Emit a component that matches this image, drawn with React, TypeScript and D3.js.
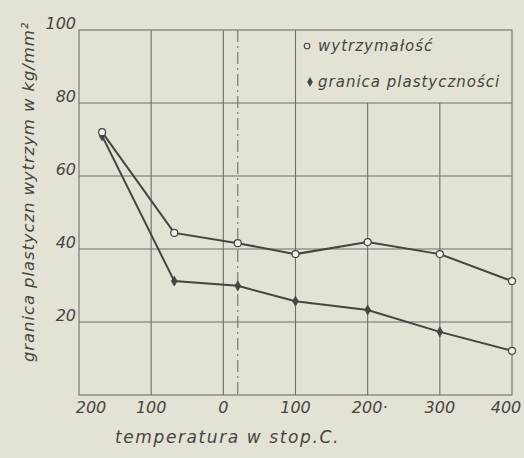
import * as d3 from "d3";
import React from "react";

// temperatura (stop. C)
const temps = [-168, -68, 20, 100, 200, 300, 400];
// wytrzymałość, kg/mm2
const strength = [72, 44.4, 41.6, 38.6, 41.9, 38.6, 31.2];
// granica plastyczności, kg/mm2
const yieldPoint = [71, 31.2, 29.9, 25.7, 23.3, 17.3, 12.1];

const xTicks = [-200, -100, 0, 100, 200, 300, 400];
const xTickLabels = ["200", "100", "0", "100", "200·", "300", "400"];
const yTicks = [20, 40, 60, 80, 100];

const W = 524;
const H = 458;
const ink = "#46453f";
const grid = "#6f6e68";
const font = "'DejaVu Sans', sans-serif";

const App = () => {
  const x = d3.scaleLinear().domain([-200, 400]).range([79, 512]);
  const y = d3.scaleLinear().domain([0, 100]).range([395, 30]);

  const line = d3
    .line<[number, number]>()
    .x((d) => x(d[0]))
    .y((d) => y(d[1]));

  const sPts: [number, number][] = temps.map((t, i) => [t, strength[i]]);
  const yPts: [number, number][] = temps.map((t, i) => [t, yieldPoint[i]]);

  const star = d3.symbol().type(d3.symbolDiamond).size(28);
  const last = yPts.length - 1;

  return (
    <div style={{ position: "fixed", left: 0, top: 0 }}>
      <svg width={W} height={H} style={{ display: "block", background: "#e4e2d4" }}>
        <rect width={W} height={H} fill="#e4e2d4" />
        {/* siatka */}
        <g stroke={grid} strokeWidth={1.1} fill="none">
          <rect x={x(-200)} y={y(100)} width={x(400) - x(-200)} height={y(0) - y(100)} />
          {yTicks.slice(0, 4).map((v) => (
            <line key={v} x1={x(-200)} x2={x(400)} y1={y(v)} y2={y(v)} />
          ))}
          {xTicks.slice(1, 6).map((t) => (
            <line key={t} x1={x(t)} x2={x(t)} y1={t >= 200 ? y(80) : y(100)} y2={y(0)} />
          ))}
          <line x1={x(20)} x2={x(20)} y1={y(100)} y2={y(0)} strokeDasharray="12,4,2,4" />
        </g>

        <g fontFamily={font} fontStyle="italic" fontSize={16} fill={ink} textAnchor="end">
          {yTicks.map((v) => (
            <text key={v} x={x(-200) - 3} y={y(v) - 1}>
              {v}
            </text>
          ))}
        </g>

        <g fontFamily={font} fontStyle="italic" fontSize={16} fill={ink} textAnchor="middle">
          {xTicks.map((t, i) => (
            <text
              key={t}
              x={x(t) + (i === 0 ? 12 : i === xTicks.length - 1 ? -6 : i === 4 ? 2 : 0)}
              y={413}
            >
              {xTickLabels[i]}
            </text>
          ))}
        </g>

        <text
          x={115}
          y={443}
          fontFamily={font}
          fontStyle="italic"
          fontSize={17}
          letterSpacing={1.6}
          fill={ink}
        >
          temperatura w stop.C.
        </text>
        <text
          transform={`translate(34,362) rotate(-90)`}
          fontFamily={font}
          fontStyle="italic"
          fontSize={16.5}
          letterSpacing={0.9}
          fill={ink}
        >
          granica plastyczn wytrzym w kg/mm²
        </text>

        {/* serie */}
        <path d={line(sPts) ?? ""} fill="none" stroke={ink} strokeWidth={2} />
        <path d={line(yPts) ?? ""} fill="none" stroke={ink} strokeWidth={2} />
        {yPts.map((p, i) =>
          i === last ? (
            <circle
              key={"y" + i}
              cx={x(p[0])}
              cy={y(p[1])}
              r={3.5}
              fill="#f2f1ea"
              stroke={ink}
              strokeWidth={1.2}
            />
          ) : (
            <path
              key={"y" + i}
              d={star() ?? ""}
              transform={`translate(${x(p[0])},${y(p[1])})`}
              fill={ink}
              stroke={ink}
              strokeWidth={0.8}
            />
          )
        )}
        {sPts.map((p, i) => (
          <circle
            key={"s" + i}
            cx={x(p[0])}
            cy={y(p[1])}
            r={3.5}
            fill="#f2f1ea"
            stroke={ink}
            strokeWidth={1.2}
          />
        ))}

        {/* legenda */}
        <g fontFamily={font} fontStyle="italic" fontSize={15} fill={ink} letterSpacing={1}>
          <circle cx={307} cy={46} r={2.8} fill="none" stroke={ink} strokeWidth={1.1} />
          <text x={318} y={51}>
            wytrzymałość
          </text>
          <path d={star() ?? ""} transform="translate(310,82)" fill={ink} />
          <text x={318} y={87}>
            granica plastyczności
          </text>
        </g>
      </svg>
    </div>
  );
};

export default App;
